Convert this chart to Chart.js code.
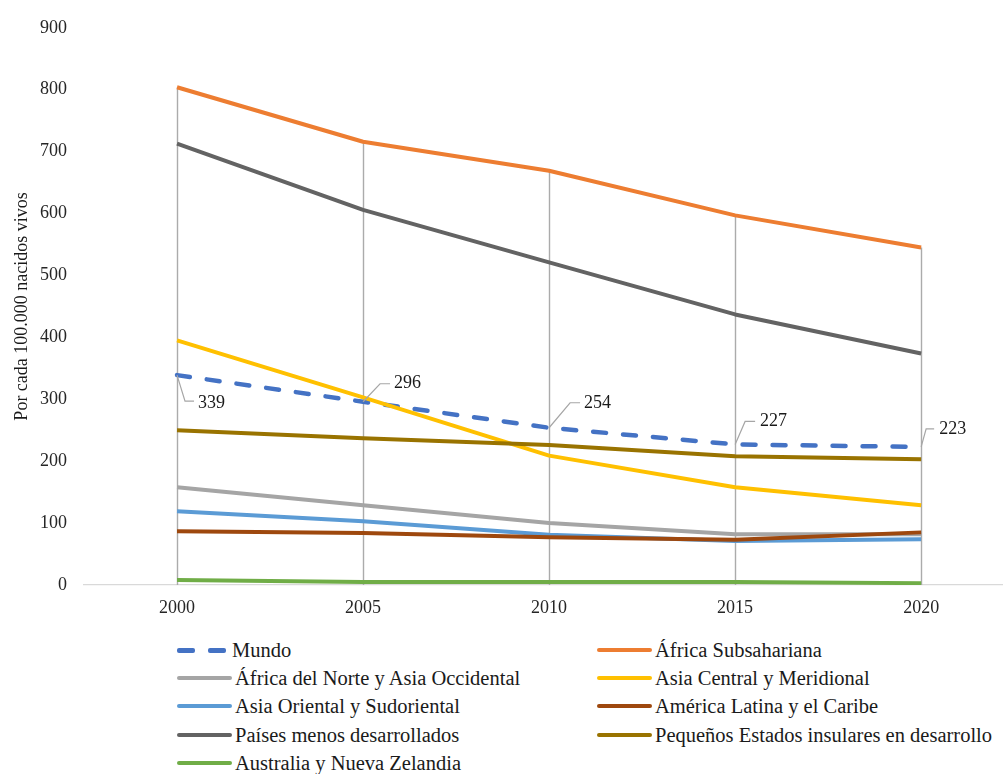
<!DOCTYPE html>
<html lang="es">
<head>
<meta charset="utf-8">
<title>Mortalidad materna</title>
<script src="https://cdn.jsdelivr.net/npm/chart.js@4.4.1/dist/chart.umd.min.js"></script>
<style>
  html, body { margin: 0; padding: 0; background: #fff; }
  body { width: 1003px; height: 774px; overflow: hidden; position: relative; font-family: "Liberation Serif", "Times New Roman", serif; }
  #wrap { position: absolute; left: 0; top: 0; width: 1003px; height: 625px; }
  #legend { position: absolute; left: 0; top: 636px; width: 1003px; }
  .item { position: absolute; height: 28px; line-height: 28px; font-size: 20.5px; color: #1a1a1a; white-space: nowrap; display: flex; align-items: center; font-family: "Liberation Serif", "Times New Roman", serif; }
  .sw { display: inline-block; height: 4px; border-radius: 2px; margin-right: 3px; }
  .dash { display: inline-block; width: 50px; height: 4px; margin-right: 5px; position: relative; }
  .dash span { position: absolute; top: 0; height: 4.5px; width: 18px; border-radius: 2px; }
</style>
</head>
<body>
<div id="wrap"><canvas id="chart" width="1003" height="625"></canvas></div>
<div id="legend"></div>
<script>
// años y valores (por cada 100.000 nacidos vivos)
const years = [2000, 2005, 2010, 2015, 2020];

const mundo = [339, 296, 254, 227, 223];
const africaSub = [804, 716, 669, 597, 545];
const africaNorte = [158, 129, 100, 82, 82];
const asiaCentral = [395, 303, 209, 158, 129];
const asiaOriental = [119, 103, 81, 71, 74];
const americaLatina = [87, 84, 77, 73, 85];
const paisesMenos = [713, 606, 521, 437, 374];
const pequenos = [250, 237, 226, 208, 203];
const australia = [8, 5, 5, 5, 3];

const yTicks = [0, 100, 200, 300, 400, 500, 600, 700, 800, 900];

// posiciones de las etiquetas de Mundo (codo y texto, relativo al punto)
const labelOffsets = [
  { ex: 8, ey: 26, lx: 17, tx: 21, ty: 28 },
  { ex: 17, ey: -18, lx: 27, tx: 31, ty: -18 },
  { ex: 21, ey: -25, lx: 31, tx: 35, ty: -24 },
  { ex: 10, ey: -23, lx: 20, tx: 25, ty: -23 },
  { ex: 5, ey: -18, lx: 13, tx: 18, ty: -18 }
];

const series = [
  { label: 'Mundo', data: mundo, color: '#4472C4', dashed: true },
  { label: 'África Subsahariana', data: africaSub, color: '#ED7D31' },
  { label: 'África del Norte y Asia Occidental', data: africaNorte, color: '#A5A5A5' },
  { label: 'Asia Central y Meridional', data: asiaCentral, color: '#FFC000' },
  { label: 'Asia Oriental y Sudoriental', data: asiaOriental, color: '#5B9BD5' },
  { label: 'América Latina y el Caribe', data: americaLatina, color: '#9E480E' },
  { label: 'Países menos desarrollados', data: paisesMenos, color: '#636363' },
  { label: 'Pequeños Estados insulares en desarrollo', data: pequenos, color: '#997300' },
  { label: 'Australia y Nueva Zelandia', data: australia, color: '#70AD47' }
];

const FONT = '"Liberation Serif", "Times New Roman", serif';

// líneas verticales desde el valor máximo hasta el eje
const dropLines = {
  id: 'dropLines',
  beforeDatasetsDraw(chart) {
    const { ctx, scales: { x, y }, chartArea } = chart;
    ctx.save();
    ctx.strokeStyle = '#ababab';
    ctx.lineWidth = 1.4;
    years.forEach((yr, i) => {
      const max = Math.max(...series.map((s) => s.data[i]));
      const px = Math.round(x.getPixelForValue(yr)) + 0.5;
      ctx.beginPath();
      ctx.moveTo(px, y.getPixelForValue(max));
      ctx.lineTo(px, chartArea.bottom);
      ctx.stroke();
    });
    ctx.restore();
  }
};

// etiquetas de datos con líneas guía para Mundo
const mundoLabels = {
  id: 'mundoLabels',
  afterDatasetsDraw(chart) {
    const { ctx } = chart;
    const meta = chart.getDatasetMeta(0);
    ctx.save();
    ctx.font = '18px ' + FONT;
    ctx.fillStyle = '#1a1a1a';
    ctx.textBaseline = 'middle';
    ctx.textAlign = 'left';
    meta.data.forEach((pt, i) => {
      const o = labelOffsets[i];
      ctx.strokeStyle = '#a6a6a6';
      ctx.lineWidth = 1.2;
      ctx.beginPath();
      ctx.moveTo(pt.x, pt.y);
      ctx.lineTo(pt.x + o.ex, pt.y + o.ey);
      ctx.lineTo(pt.x + o.lx, pt.y + o.ey);
      ctx.stroke();
      ctx.fillText(String(mundo[i]), pt.x + o.tx, pt.y + o.ty);
    });
    ctx.restore();
  }
};

const datasets = series.map((s, i) => ({
  label: s.label,
  data: years.map((yr, j) => ({ x: yr, y: s.data[j] })),
  borderColor: s.color,
  backgroundColor: s.color,
  borderWidth: s.dashed ? 4.5 : 4,
  borderDash: s.dashed ? [13, 17] : [],
  borderCapStyle: s.dashed ? 'round' : 'butt',
  borderJoinStyle: 'round',
  pointRadius: 0,
  tension: 0,
  fill: false,
  order: series.length - i
}));

new Chart(document.getElementById('chart'), {
  type: 'line',
  data: { datasets },
  options: {
    responsive: false,
    animation: false,
    layout: { padding: { top: 25, right: 0, left: 0, bottom: 0 } },
    plugins: {
      legend: { display: false },
      tooltip: { enabled: false }
    },
    scales: {
      x: {
        type: 'linear',
        min: 1997.5,
        max: 2022.2,
        afterBuildTicks: (axis) => { axis.ticks = years.map((v) => ({ value: v })); },
        afterFit: (axis) => { axis.height = 40; },
        grid: { display: false, drawTicks: false },
        border: { display: true, color: '#d9d9d9', width: 1.3 },
        ticks: {
          padding: 12,
          color: '#262626',
          font: { family: FONT, size: 18 },
          callback: (v) => String(v)
        }
      },
      y: {
        min: 0,
        max: 900,
        afterBuildTicks: (axis) => { axis.ticks = yTicks.map((v) => ({ value: v })); },
        afterFit: (axis) => { axis.width = 84; },
        grid: { display: false, drawTicks: false },
        border: { display: false },
        ticks: {
          padding: 17,
          color: '#262626',
          font: { family: FONT, size: 18 }
        },
        title: {
          display: true,
          text: 'Por cada 100.000 nacidos vivos',
          color: '#1a1a1a',
          font: { family: FONT, size: 18 },
          padding: { top: 11, bottom: 0 }
        }
      }
    }
  },
  plugins: [dropLines, mundoLabels]
});

// leyenda en dos columnas
const legend = document.getElementById('legend');
const colX = [177, 597];
series.forEach((s, i) => {
  const item = document.createElement('div');
  item.className = 'item';
  item.style.left = colX[i % 2] + 'px';
  item.style.top = (Math.floor(i / 2) * 28.2) + 'px';
  let sw;
  if (s.dashed) {
    sw = document.createElement('span');
    sw.className = 'dash';
    [0, 31].forEach((l) => {
      const d = document.createElement('span');
      d.style.left = l + 'px';
      d.style.background = s.color;
      sw.appendChild(d);
    });
  } else {
    sw = document.createElement('span');
    sw.className = 'sw';
    sw.style.width = '55px';
    sw.style.background = s.color;
  }
  item.appendChild(sw);
  const txt = document.createElement('span');
  txt.textContent = s.label;
  item.appendChild(txt);
  legend.appendChild(item);
});
</script>
</body>
</html>
